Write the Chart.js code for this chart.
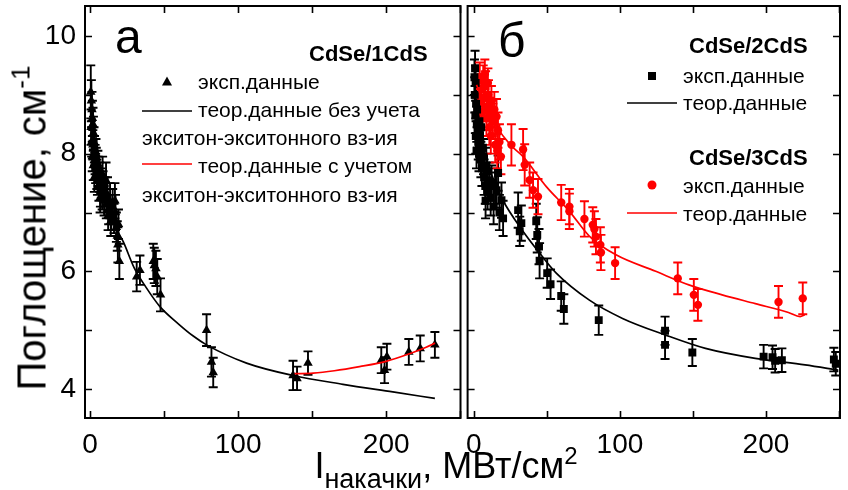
<!DOCTYPE html>
<html lang="ru">
<head>
  <meta charset="UTF-8" />
  <title>Поглощение CdSe/CdS</title>
  <script src="https://cdn.jsdelivr.net/npm/chart.js"></script>
  <style>
    body { margin: 0; width: 848px; height: 490px; background: #fff; position: relative; overflow: hidden;
           font-family: "Liberation Sans", Arial, sans-serif; }
    canvas { position: absolute; top: 0; }
    #chartA { left: 0; }
    #chartB { left: 462px; }
    .ytitle { position: absolute; left: 30px; top: 228px; transform: translate(-50%, -50%) rotate(-90deg);
              font-size: 40px; white-space: nowrap; color: #000; }
    .xtitle { position: absolute; left: 446px; top: 442px; transform: translateX(-50%);
              font-size: 36px; white-space: nowrap; color: #000; }
    .ytitle sup { font-size: 26px; vertical-align: 16px; }
    .xtitle sup { font-size: 24px; vertical-align: 14px; }
    .xtitle sub { font-size: 27px; vertical-align: -10px; }
  </style>
</head>
<body>
  <canvas id="chartA" width="466" height="490"></canvas>
  <canvas id="chartB" width="386" height="490"></canvas>
  <div class="ytitle">Поглощение, см<sup>-1</sup></div>
  <div class="xtitle">I<sub>накачки</sub>, МВт/см<sup>2</sup></div>

  <script>
    // axis ticks (labels on every second one)
    const xTicks = [0, 50, 100, 150, 200, 250];
    const yTicks = [4, 5, 6, 7, 8, 9, 10];

    // а) CdSe/1CdS: experiment
    const x1 = [0.5, 0.9, 1.3, 1.6, 2.0, 2.3, 1.1, 2.7, 3.0, 1.5, 3.4, 2.2, 3.8, 4.2, 4.6, 5.0, 5.5, 6.0, 6.5, 7.0,
                7.6, 8.2, 8.8, 9.5, 10.2, 11.0, 11.8, 12.6, 13.5, 14.4, 15.3, 16.2, 17.2, 17.8, 18.4, 18.8, 19.8,
                0.7, 1.9, 2.9, 4.0, 5.3, 6.8, 8.5, 10.8, 12.2, 14.0, 16.8, 19.2,
                31.5, 33.7, 42.7, 43.4, 44.5, 45.4, 47.6, 78.7, 82.0, 83.2, 137.1, 139.8, 147.2,
                196.7, 198.9, 200.5, 215.3, 223.0, 232.9];
    const y1 = [9.05, 8.9, 8.75, 8.6, 8.5, 8.35, 8.2, 8.2, 8.05, 7.95, 7.9, 7.8, 7.75, 7.85, 7.65, 7.55, 7.7, 7.45, 7.6, 7.35,
                7.5, 7.3, 7.45, 7.2, 7.35, 7.15, 7.3, 7.05, 7.2, 6.95, 7.1, 6.9, 7.0, 6.75, 6.6, 6.45, 6.17,
                8.45, 8.15, 7.6, 8.0, 7.8, 7.25, 7.65, 7.55, 6.95, 6.85, 7.2, 6.8,
                5.91, 6.02, 6.17, 6.1, 6.05, 5.91, 5.6, 5.0, 4.46, 4.28, 4.23, 4.18, 4.44,
                4.49, 4.32, 4.55, 4.63, 4.69, 4.75];
    const e1 = [0.45, 0.35, 0.3, 0.3, 0.28, 0.28, 0.25, 0.25, 0.25, 0.25, 0.25, 0.25, 0.25, 0.25, 0.25, 0.25, 0.25, 0.25, 0.25, 0.25,
                0.25, 0.25, 0.25, 0.25, 0.25, 0.25, 0.3, 0.25, 0.3, 0.25, 0.3, 0.25, 0.3, 0.25, 0.25, 0.3, 0.3,
                0.3, 0.25, 0.25, 0.25, 0.25, 0.25, 0.3, 0.3, 0.25, 0.25, 0.3, 0.25,
                0.25, 0.25, 0.3, 0.3, 0.3, 0.3, 0.28, 0.27, 0.25, 0.25, 0.25, 0.2, 0.2,
                0.22, 0.22, 0.22, 0.22, 0.22, 0.22];

    // а) theory without / with exciton-exciton interaction
    const t1x = [0.8, 5, 10, 15, 18.4, 22.5, 30, 37.5, 47.2, 60, 69.7, 78.7, 105.7, 137, 170.8, 204.5, 232.9];
    const t1y = [8.95, 8.1, 7.45, 6.95, 6.7, 6.5, 6.05, 5.74, 5.4, 5.1, 4.9, 4.75, 4.44, 4.23, 4.08, 3.95, 3.84];
    const t1rx = [138.2, 150.7, 165, 182, 200, 215.8, 227, 233];
    const t1ry = [4.26, 4.27, 4.31, 4.38, 4.47, 4.6, 4.71, 4.78];

    // б) CdSe/2CdS: experiment
    const x2 = [0.8, 1.2, 0.6, 1.5, 1.0, 2.0, 1.3, 2.5, 3.0, 1.8, 3.5, 4.2, 4.8, 5.5, 6.2, 7.0, 7.8, 8.5, 9.4, 10.5,
                0.4, 2.2, 3.8, 5.0, 6.6, 8.0, 9.0, 11.5, 13.5, 14.5, 17.5, 20.0,
                12.1, 15.5, 16.6, 18.9, 30.3, 31.4, 32.5, 42.7, 43.4, 44.6, 45.0, 50.2, 52.5, 59.8, 61.6, 85.5,
                130.9, 130.9, 149.6, 198.4, 204.5, 206.3, 210.9, 246.5, 247.8];
    const y2 = [9.45, 9.2, 9.0, 8.85, 8.65, 8.5, 8.3, 8.4, 8.2, 8.05, 8.0, 8.3, 7.9, 7.75, 8.1, 7.6, 7.45, 7.8, 7.35, 7.55,
                9.3, 8.75, 8.55, 8.45, 7.95, 7.2, 7.7, 7.25, 7.1, 7.45, 7.0, 6.9,
                7.5, 7.38, 7.67, 7.21, 7.04, 6.68, 6.82, 6.85, 6.62, 6.42, 6.18, 5.97, 5.78, 5.58, 5.36, 5.17,
                4.99, 4.75, 4.62, 4.55, 4.54, 4.48, 4.49, 4.5, 4.43];
    const e2 = [0.3, 0.3, 0.3, 0.3, 0.3, 0.3, 0.3, 0.3, 0.3, 0.3, 0.3, 0.3, 0.3, 0.3, 0.3, 0.3, 0.3, 0.3, 0.3, 0.3,
                0.3, 0.3, 0.3, 0.3, 0.3, 0.3, 0.3, 0.3, 0.3, 0.3, 0.3, 0.3,
                0.3, 0.3, 0.3, 0.3, 0.3, 0.25, 0.3, 0.3, 0.3, 0.3, 0.3, 0.25, 0.25, 0.25, 0.25, 0.25,
                0.24, 0.24, 0.23, 0.2, 0.2, 0.2, 0.2, 0.2, 0.2];
    const t2x = [1.5, 8, 15.5, 20, 32.5, 45, 56.4, 79.1, 101.8, 130.9, 158.6, 192.7, 226.8, 249.5];
    const t2y = [8.7, 7.95, 7.44, 7.2, 6.72, 6.31, 5.97, 5.51, 5.2, 4.92, 4.69, 4.52, 4.41, 4.32];

    // б) CdSe/3CdS: experiment
    const x3 = [4.0, 5.0, 6.4, 7.0, 8.0, 9.0, 10.0, 11.0, 12.0, 13.0, 14.0, 15.5, 16.5, 17.5,
                3.0, 4.5, 5.8, 7.5, 8.6, 9.6, 10.6, 11.6, 12.6, 14.6, 16.0, 18.5,
                25.7, 33.7, 34.8, 38.2,
                40.5, 43.9, 59.8, 65.4, 65.4, 75.7, 81.4, 82.5, 83.6, 86.6, 87.0, 96.7, 139.6, 150.6, 153.4, 208.6, 225.2];
    const y3 = [9.3, 9.1, 9.25, 8.95, 9.15, 8.8, 9.0, 8.7, 8.9, 8.55, 8.75, 8.63, 8.4, 8.2,
                9.0, 8.85, 8.7, 9.35, 8.6, 9.2, 8.45, 8.3, 8.6, 8.15, 8.05, 7.95,
                8.15, 8.07, 7.81, 7.55,
                7.38, 7.27, 7.17, 7.1, 7.02, 6.89, 6.79, 6.72, 6.59, 6.45, 6.32, 6.14, 5.88, 5.6, 5.43, 5.48, 5.54];
    const e3 = [0.25, 0.25, 0.25, 0.25, 0.25, 0.25, 0.25, 0.25, 0.25, 0.3, 0.3, 0.3, 0.3, 0.3,
                0.25, 0.25, 0.3, 0.25, 0.3, 0.25, 0.3, 0.3, 0.3, 0.3, 0.3, 0.3,
                0.35, 0.35, 0.35, 0.3,
                0.3, 0.3, 0.3, 0.3, 0.3, 0.3, 0.3, 0.3, 0.3, 0.3, 0.3, 0.27, 0.27, 0.27, 0.27, 0.27, 0.27];
    const t3x = [1.8, 8, 15.5, 25, 33.7, 49.6, 65.4, 79, 97.3, 124.5, 147.2, 170, 192.7, 215.4, 223.4, 226.5];
    const t3y = [9.17, 8.8, 8.46, 8.15, 7.95, 7.44, 7.02, 6.6, 6.28, 6.0, 5.77, 5.6, 5.45, 5.3, 5.23, 5.26];

    const FONT = '"Liberation Sans", Arial, sans-serif';
    const RED = '#ff0000';

    function pts(xs, ys) { return xs.map((x, i) => ({ x: x, y: ys[i] })); }

    function expSet(xs, ys, errs, color, style, radius) {
      return { data: pts(xs, ys), errors: errs, showLine: false, pointStyle: style, pointRadius: radius,
               backgroundColor: color, borderColor: color, borderWidth: 0 };
    }
    function theorySet(xs, ys, color) {
      return { data: pts(xs, ys), showLine: true, pointRadius: 0, borderColor: color, borderWidth: 1.7,
               cubicInterpolationMode: 'monotone', fill: false };
    }

    // vertical error bars with caps
    const errorBars = {
      id: 'errorBars',
      beforeDatasetsDraw(chart) {
        const ctx = chart.ctx, xs = chart.scales.x, ys = chart.scales.y, a = chart.chartArea;
        ctx.save();
        ctx.beginPath(); ctx.rect(a.left, a.top, a.right - a.left, a.bottom - a.top); ctx.clip();
        chart.data.datasets.forEach(ds => {
          if (!ds.errors) return;
          ctx.strokeStyle = ds.borderColor; ctx.lineWidth = 1.9;
          ds.data.forEach((p, i) => {
            const px = xs.getPixelForValue(p.x);
            const top = ys.getPixelForValue(p.y + ds.errors[i]);
            const bot = ys.getPixelForValue(p.y - ds.errors[i]);
            ctx.beginPath();
            ctx.moveTo(px, top); ctx.lineTo(px, bot);
            ctx.moveTo(px - 4.5, top); ctx.lineTo(px + 4.5, top);
            ctx.moveTo(px - 4.5, bot); ctx.lineTo(px + 4.5, bot);
            ctx.stroke();
          });
        });
        ctx.restore();
      }
    };

    // frame with inward ticks on all four sides
    const frame = {
      id: 'frame',
      afterDraw(chart) {
        const ctx = chart.ctx, a = chart.chartArea, xs = chart.scales.x, ys = chart.scales.y;
        ctx.save();
        ctx.strokeStyle = '#000'; ctx.lineWidth = 1.6;
        ctx.beginPath();
        xTicks.forEach(v => {
          const px = Math.round(xs.getPixelForValue(v)) + 0.5;
          if (px < a.left || px > a.right) return;
          ctx.moveTo(px, a.bottom); ctx.lineTo(px, a.bottom - 7);
          ctx.moveTo(px, a.top); ctx.lineTo(px, a.top + 7);
        });
        yTicks.forEach(v => {
          const py = Math.round(ys.getPixelForValue(v)) + 0.5;
          ctx.moveTo(a.left, py); ctx.lineTo(a.left + 7, py);
          ctx.moveTo(a.right, py); ctx.lineTo(a.right - 7, py);
        });
        ctx.stroke();
        ctx.lineWidth = 2;
        ctx.strokeRect(a.left, a.top, a.right - a.left, a.bottom - a.top);
        ctx.restore();
      }
    };

    function drawMarker(ctx, style, x, y, color) {
      ctx.fillStyle = color;
      ctx.beginPath();
      if (style === 'triangle') {
        ctx.moveTo(x, y - 5.5); ctx.lineTo(x + 5, y + 3.5); ctx.lineTo(x - 5, y + 3.5); ctx.closePath();
      } else if (style === 'rect') {
        ctx.rect(x - 4, y - 4, 8, 8);
      } else {
        ctx.arc(x, y, 4.5, 0, Math.PI * 2);
      }
      ctx.fill();
    }
    function drawLine(ctx, x1, x2, y, color) {
      ctx.strokeStyle = color; ctx.lineWidth = 1.7;
      ctx.beginPath(); ctx.moveTo(x1, y); ctx.lineTo(x2, y); ctx.stroke();
    }

    const legendA = {
      id: 'legendA',
      afterDraw(chart) {
        const ctx = chart.ctx;
        ctx.save();
        ctx.fillStyle = '#000'; ctx.textBaseline = 'alphabetic';
        ctx.font = '48px ' + FONT; ctx.fillText('а', 115, 53);
        ctx.font = 'bold 22px ' + FONT; ctx.fillText('CdSe/1CdS', 309, 61);
        ctx.font = '21px ' + FONT;
        drawMarker(ctx, 'triangle', 167, 82, '#000');
        ctx.fillStyle = '#000'; ctx.fillText('эксп.данные', 198, 89);
        drawLine(ctx, 142, 192, 111, '#000');
        ctx.fillText('теор.данные без учета', 198, 117);
        ctx.fillText('экситон-экситонного вз-ия', 142, 145);
        drawLine(ctx, 142, 192, 164, RED);
        ctx.fillText('теор.данные с учетом', 198, 173);
        ctx.fillText('экситон-экситонного вз-ия', 142, 202);
        ctx.restore();
      }
    };

    const legendB = {
      id: 'legendB',
      afterDraw(chart) {
        const ctx = chart.ctx;
        ctx.save();
        ctx.fillStyle = '#000'; ctx.textBaseline = 'alphabetic';
        ctx.font = '48px ' + FONT; ctx.fillText('б', 36, 57);
        ctx.font = 'bold 22px ' + FONT;
        ctx.fillText('CdSe/2CdS', 227, 53);
        ctx.fillText('CdSe/3CdS', 227, 165);
        ctx.font = '21px ' + FONT;
        drawMarker(ctx, 'rect', 190, 76, '#000');
        ctx.fillStyle = '#000'; ctx.fillText('эксп.данные', 221, 83);
        drawLine(ctx, 165, 215, 103, '#000');
        ctx.fillText('теор.данные', 221, 110);
        drawMarker(ctx, 'circle', 190, 185, RED);
        ctx.fillStyle = '#000'; ctx.fillText('эксп.данные', 221, 193);
        drawLine(ctx, 165, 215, 213, RED);
        ctx.fillText('теор.данные', 221, 221);
        ctx.restore();
      }
    };

    function axes(xMin, xMax, yWidth, showY) {
      return {
        x: {
          type: 'linear', min: xMin, max: xMax,
          afterBuildTicks: s => { s.ticks = xTicks.map(v => ({ value: v })); },
          // keep the plot area fixed: no extra room for overhanging tick labels
          afterFit: s => { s.height = 72; s.paddingLeft = 0; s.paddingRight = 0; },
          grid: { display: false, drawTicks: false }, border: { display: false },
          ticks: { padding: 10, color: '#000', font: { family: FONT, size: 28 }, maxRotation: 0,
                   callback: v => (v % 100 === 0 ? v : '') }
        },
        y: {
          type: 'linear', min: 3.507, max: 10.51,
          afterBuildTicks: s => { s.ticks = yTicks.map(v => ({ value: v })); },
          afterFit: s => { s.width = yWidth; s.paddingTop = 0; s.paddingBottom = 0; },
          grid: { display: false, drawTicks: false }, border: { display: false },
          ticks: { display: showY, padding: 9, color: '#000', font: { family: FONT, size: 28 },
                   callback: v => (v % 2 === 0 ? v : '') }
        }
      };
    }

    const common = {
      responsive: false, animation: false,
      plugins: { legend: { display: false }, tooltip: { enabled: false } }
    };

    new Chart(document.getElementById('chartA'), {
      type: 'scatter',
      data: {
        datasets: [
          theorySet(t1x, t1y, '#000'),
          theorySet(t1rx, t1ry, RED),
          expSet(x1, y1, e1, '#000', 'triangle', 5.5)
        ]
      },
      options: Object.assign({}, common, {
        layout: { padding: { left: 0, right: 5, top: 6, bottom: 0 } },
        scales: axes(-3.4, 250.2, 85, true)
      }),
      plugins: [errorBars, frame, legendA]
    });

    new Chart(document.getElementById('chartB'), {
      type: 'scatter',
      data: {
        datasets: [
          theorySet(t2x, t2y, '#000'),
          theorySet(t3x, t3y, RED),
          expSet(x2, y2, e2, '#000', 'rect', 5.6),
          expSet(x3, y3, e3, RED, 'circle', 4.2)
        ]
      },
      options: Object.assign({}, common, {
        layout: { padding: { left: 0, right: 8, top: 6, bottom: 0 } },
        scales: axes(-4.3, 250.7, 4, false)
      }),
      plugins: [errorBars, frame, legendB]
    });
  </script>
</body>
</html>
